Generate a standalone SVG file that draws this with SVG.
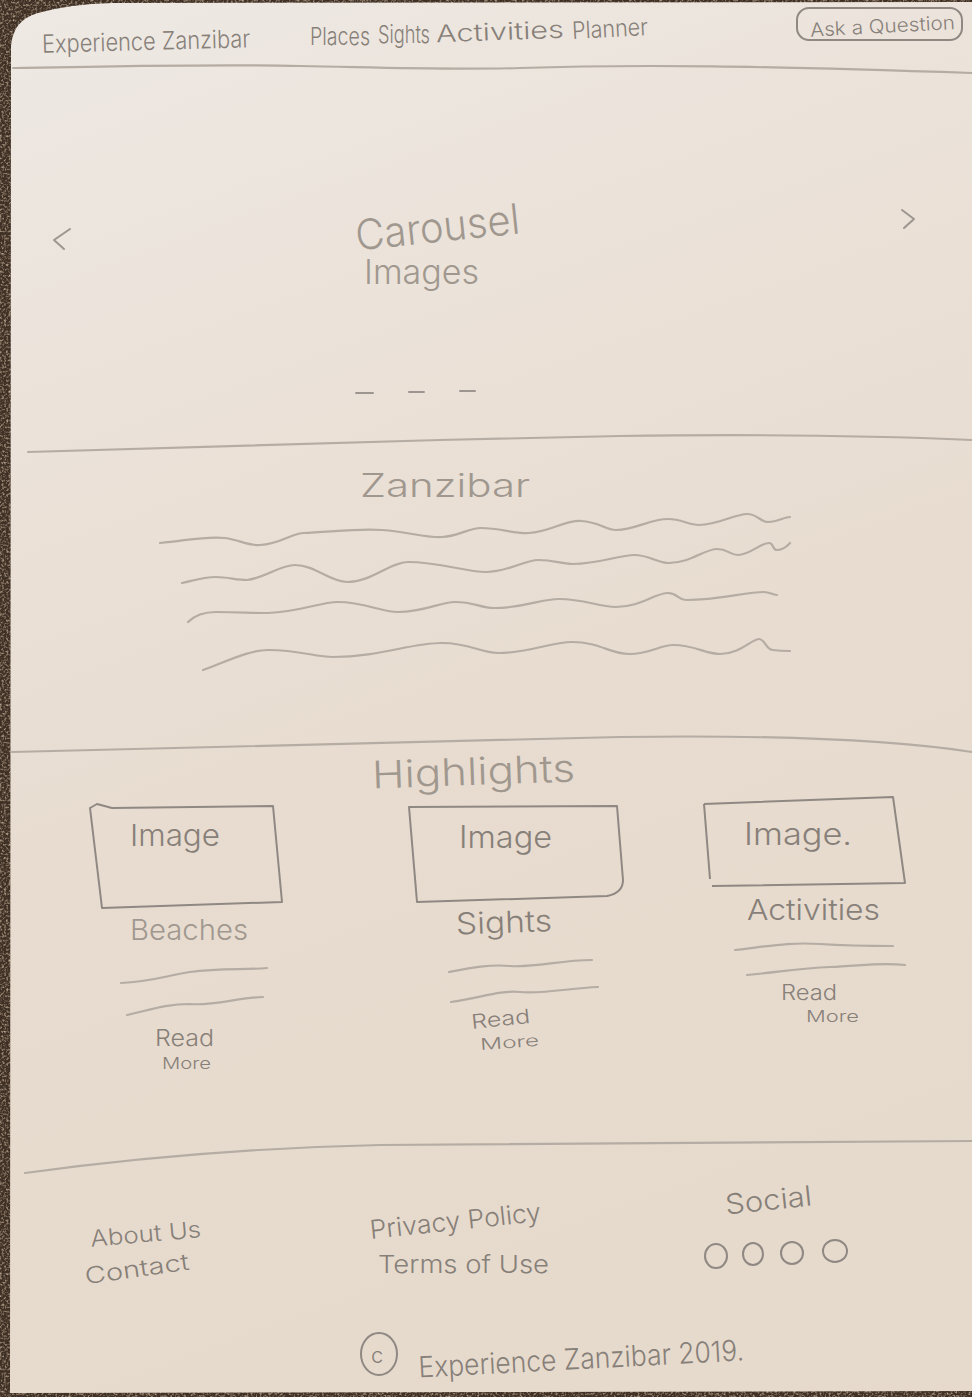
<svg xmlns="http://www.w3.org/2000/svg" width="972" height="1397" viewBox="0 0 972 1397">
  <defs>
    <linearGradient id="paper" x1="0" y1="0" x2="0.25" y2="1">
      <stop offset="0" stop-color="#eee9e4"/>
      <stop offset="0.3" stop-color="#ebe2d9"/>
      <stop offset="0.6" stop-color="#e8dcd0"/>
      <stop offset="1" stop-color="#e6dacd"/>
    </linearGradient>
    <filter id="carpet" x="0" y="0" width="100%" height="100%">
      <feTurbulence type="fractalNoise" baseFrequency="0.45" numOctaves="2" seed="7" result="n"/>
      <feColorMatrix in="n" type="matrix" values="0 0 0 0 0.55  0 0 0 0 0.43  0 0 0 0 0.31  0 0 0 2.2 -1.0" result="c"/>
      <feComposite in="c" in2="SourceGraphic" operator="in"/>
    </filter>
    <style>
      .pen { fill: none; stroke: #9c9590; stroke-width: 2; stroke-linecap: round; stroke-linejoin: round; }
      .rule { fill: none; stroke: #b5aca3; stroke-width: 2.2; stroke-linecap: round; stroke-linejoin: round; }
      .box { fill: none; stroke: #8f8883; stroke-width: 2; stroke-linejoin: round; }
      .hand { font-family: "Inter", "Liberation Sans", sans-serif; font-weight: 300; fill: #878079; }
      .light { fill: #a0988f; }
    </style>
  </defs>

  <!-- carpet showing around the sheet -->
  <rect width="972" height="1397" fill="#3f3025"/>
  <rect width="972" height="1397" fill="#000" filter="url(#carpet)"/>
  <!-- the sheet of paper -->
  <path d="M10,1393 L11,46 Q13,20 38,13 Q70,4 112,3 L972,2 L972,1391 Z" fill="url(#paper)"/>

  <!-- top navigation bar -->
  <g id="nav">
    <text class="hand" x="42" y="50" font-size="25" textLength="208" lengthAdjust="spacingAndGlyphs" transform="rotate(-1.5 146 40)">Experience Zanzibar</text>
    <text class="hand" x="310" y="45" font-size="24" textLength="60" lengthAdjust="spacingAndGlyphs">Places</text>
    <text class="hand" x="378" y="43" font-size="24" textLength="52" lengthAdjust="spacingAndGlyphs">Sights</text>
    <text class="hand" x="436" y="40" font-size="24" textLength="128" lengthAdjust="spacingAndGlyphs" transform="rotate(-2 500 34)">Activities</text>
    <text class="hand" x="572" y="37" font-size="24" textLength="76" lengthAdjust="spacingAndGlyphs" transform="rotate(-3 610 30)">Planner</text>
  </g>
  <g id="ask-button">
    <rect class="box" x="797" y="8" width="165" height="32" rx="12"/>
    <text class="hand" x="810" y="33" font-size="19" textLength="145" lengthAdjust="spacingAndGlyphs" transform="rotate(-3 880 26)">Ask a Question</text>
  </g>

  <!-- section dividers -->
  <g id="dividers">
    <path class="rule" d="M13,68 C120,66 220,64 300,66 C400,68 450,70 520,68 C640,64 760,66 972,73"/>
    <path class="rule" d="M28,452 C200,446 420,440 620,436 C760,434 880,436 972,440"/>
    <path class="rule" d="M12,752 C220,748 420,742 620,737 C760,735 880,738 972,752"/>
    <path class="rule" d="M25,1173 C120,1160 240,1148 380,1145 C600,1143 800,1143 972,1141"/>
  </g>

  <!-- carousel -->
  <g id="carousel">
    <path class="pen" d="M70,229 L54,240 L64,249"/>
    <path class="pen" d="M902,210 L914,219 L904,228"/>
    <text class="hand light" x="355" y="242" font-size="42" textLength="165" lengthAdjust="spacingAndGlyphs" transform="rotate(-6 437 228)">Carousel</text>
    <text class="hand light" x="364" y="284" font-size="34" textLength="115" lengthAdjust="spacingAndGlyphs">Images</text>
    <path class="pen" d="M356,393 L373,393 M409,392 L424,392 M460,391 L475,391"/>
  </g>

  <!-- intro paragraph -->
  <g id="intro">
    <text class="hand light" x="360" y="497" font-size="32" textLength="170" lengthAdjust="spacingAndGlyphs">Zanzibar</text>
    <path class="rule" d="M160,543 C190,540 205,536 225,538 C240,540 248,546 260,545 C280,544 290,534 303,533 C330,532 360,528 382,530 C410,532 425,538 442,537 C460,536 468,528 481,528 C500,528 515,534 529,533 C550,532 565,520 581,521 C600,522 605,530 616,530 C635,530 650,519 668,519 C682,519 688,525 699,525 C718,525 735,514 747,514 C758,514 760,522 768,522 C778,522 784,517 790,517"/>
    <path class="rule" d="M182,583 C195,580 205,577 216,577 C228,577 236,580 247,580 C265,578 280,565 295,565 C315,565 330,582 347,582 C372,582 390,562 408,562 C440,562 465,572 486,572 C508,572 525,560 538,560 C555,560 560,564 573,564 C598,564 620,555 634,555 C650,555 657,563 669,563 C690,563 705,549 717,549 C728,549 730,555 738,555 C750,555 760,543 769,543 C774,543 772,550 777,550 C784,550 788,545 790,543"/>
    <path class="rule" d="M188,622 C196,614 205,612 216,612 C240,612 250,613 268,613 C300,612 320,602 338,602 C365,602 380,612 398,612 C425,612 440,602 455,602 C475,602 480,608 494,608 C525,608 540,599 559,599 C585,599 598,607 616,607 C640,607 655,593 668,593 C678,593 678,600 686,600 C720,600 745,592 764,592 C770,592 772,595 777,595"/>
    <path class="rule" d="M203,670 C230,660 250,650 268,650 C300,650 315,657 333,657 C380,657 410,643 442,643 C470,643 480,653 498,653 C530,653 550,642 572,642 C600,642 610,654 629,654 C650,654 660,645 673,645 C695,645 705,654 720,654 C740,654 752,639 759,639 C765,639 766,650 773,650 C780,651 786,651 790,651"/>
  </g>

  <!-- highlights -->
  <g id="highlights-title">
    <text class="hand light" x="372" y="785" font-size="38" textLength="203" lengthAdjust="spacingAndGlyphs" transform="rotate(-2 473 772)">Highlights</text>
  </g>

  <g id="card-beaches">
    <path class="box" d="M90,808 L97,804 L112,808 L273,806 L282,902 L102,908 Z"/>
    <text class="hand" x="130" y="846" font-size="30" textLength="90" lengthAdjust="spacingAndGlyphs">Image</text>
    <text class="hand light" x="130" y="940" font-size="28" textLength="118" lengthAdjust="spacingAndGlyphs">Beaches</text>
    <path class="rule" d="M121,983 C150,982 165,976 190,972 C220,968 245,970 267,968"/>
    <path class="rule" d="M127,1015 C150,1010 165,1004 190,1004 C215,1006 235,998 263,997"/>
    <text class="hand" x="155" y="1046" font-size="23" textLength="59" lengthAdjust="spacingAndGlyphs">Read</text>
    <text class="hand" x="162" y="1069" font-size="16" textLength="49" lengthAdjust="spacingAndGlyphs">More</text>
  </g>

  <g id="card-sights">
    <path class="box" d="M409,807 L617,806 L623,880 Q623,893 607,896 L417,902 Z"/>
    <text class="hand" x="459" y="848" font-size="31" textLength="93" lengthAdjust="spacingAndGlyphs">Image</text>
    <text class="hand" x="456" y="933" font-size="30" textLength="96" lengthAdjust="spacingAndGlyphs" transform="rotate(-2 500 925)">Sights</text>
    <path class="rule" d="M449,972 C470,968 490,964 510,966 C535,968 560,960 592,960"/>
    <path class="rule" d="M451,1002 C480,998 500,990 520,992 C545,994 570,988 598,987"/>
    <text class="hand" x="471" y="1026" font-size="20" textLength="59" lengthAdjust="spacingAndGlyphs" transform="rotate(-6 500 1018)">Read</text>
    <text class="hand" x="480" y="1048" font-size="16" textLength="59" lengthAdjust="spacingAndGlyphs" transform="rotate(-4 508 1042)">More</text>
  </g>

  <g id="card-activities">
    <path class="box" d="M704,804 L893,797 L905,883 L712,886 M704,804 L710,879"/>
    <text class="hand" x="744" y="845" font-size="31" textLength="108" lengthAdjust="spacingAndGlyphs">Image.</text>
    <text class="hand" x="747" y="920" font-size="29" textLength="133" lengthAdjust="spacingAndGlyphs">Activities</text>
    <path class="rule" d="M735,950 C770,946 790,942 820,944 C850,946 870,946 893,946"/>
    <path class="rule" d="M747,975 C780,972 800,968 830,967 C860,966 880,962 905,965"/>
    <text class="hand" x="781" y="1000" font-size="21" textLength="56" lengthAdjust="spacingAndGlyphs">Read</text>
    <text class="hand" x="806" y="1022" font-size="16" textLength="53" lengthAdjust="spacingAndGlyphs">More</text>
  </g>

  <!-- footer -->
  <g id="footer-about">
    <text class="hand" x="90" y="1242" font-size="23" textLength="111" lengthAdjust="spacingAndGlyphs" transform="rotate(-5 145 1232)">About Us</text>
    <text class="hand" x="84" y="1277" font-size="23" textLength="105" lengthAdjust="spacingAndGlyphs" transform="rotate(-8 136 1266)">Contact</text>
  </g>
  <g id="footer-legal">
    <text class="hand" x="369" y="1230" font-size="26" textLength="172" lengthAdjust="spacingAndGlyphs" transform="rotate(-6 455 1218)">Privacy Policy</text>
    <text class="hand" x="378" y="1273" font-size="24" textLength="171" lengthAdjust="spacingAndGlyphs">Terms of Use</text>
  </g>
  <g id="footer-social">
    <text class="hand" x="725" y="1210" font-size="28" textLength="87" lengthAdjust="spacingAndGlyphs" transform="rotate(-6 768 1200)">Social</text>
    <ellipse class="box" cx="716" cy="1256" rx="11" ry="12"/>
    <ellipse class="box" cx="753" cy="1254" rx="10" ry="11"/>
    <ellipse class="box" cx="792" cy="1253" rx="11" ry="11"/>
    <ellipse class="box" cx="835" cy="1251" rx="12" ry="11"/>
  </g>
  <g id="footer-copyright">
    <ellipse class="box" cx="379" cy="1354" rx="18" ry="21"/>
    <text class="hand" x="371" y="1363" font-size="22">c</text>
    <text class="hand" x="418" y="1369" font-size="29" textLength="326" lengthAdjust="spacingAndGlyphs" transform="rotate(-3 580 1356)">Experience Zanzibar 2019.</text>
  </g>
</svg>
